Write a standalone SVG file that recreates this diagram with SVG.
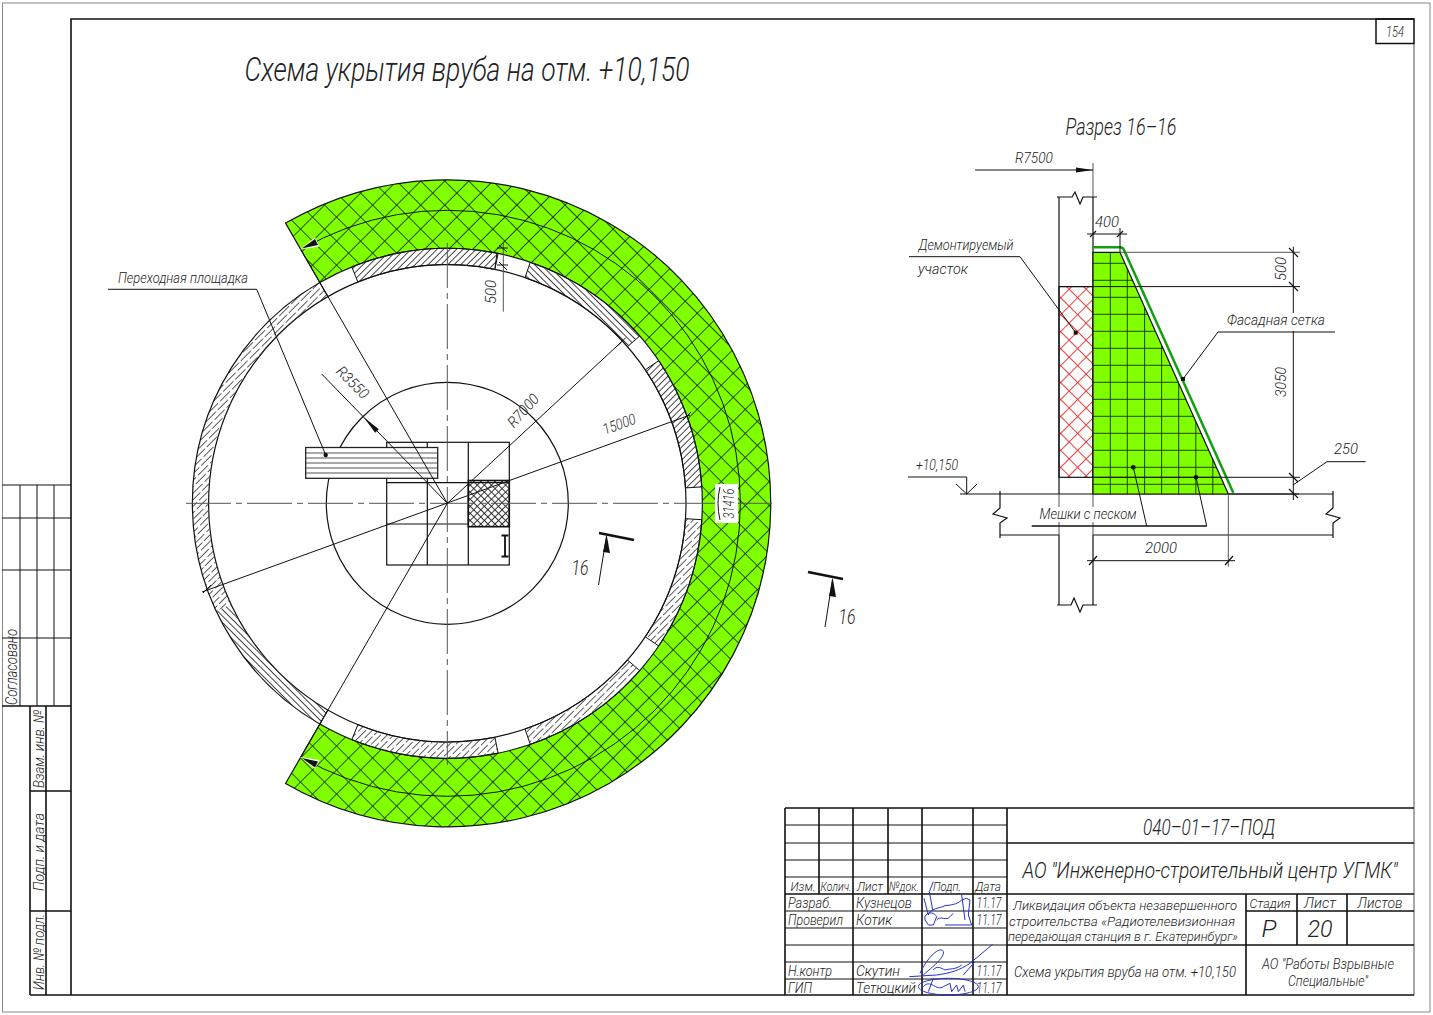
<svg xmlns="http://www.w3.org/2000/svg" width="1433" height="1015" viewBox="0 0 1433 1015">
<style>
text{font-family:"Roboto","Liberation Sans",sans-serif;font-style:italic;font-weight:300;fill:#222;text-anchor:middle}
.s{text-anchor:start}
.l{stroke:#111;stroke-width:1;fill:none}
.b{stroke:#111;stroke-width:1.6;fill:none}
.g{stroke:#555;stroke-width:1;fill:none}
.c{stroke:#555;stroke-width:1;fill:none;stroke-dasharray:45 5 6 5}
.t{stroke:#111;stroke-width:1.2;fill:none}
.sig{stroke:#2230d0;stroke-width:3;fill:none}
.d{fill:#111}
</style>
<defs>
<pattern id="h1" width="4.6" height="4.6" patternUnits="userSpaceOnUse" patternTransform="rotate(-45)"><path d="M0 2.3H4.6" stroke="#333" stroke-width=".9"/></pattern>
<pattern id="h2" width="4.6" height="4.6" patternUnits="userSpaceOnUse" patternTransform="rotate(45)"><path d="M0 2.3H4.6" stroke="#333" stroke-width=".9"/></pattern>
<pattern id="h3" width="17" height="9.2" patternUnits="userSpaceOnUse" patternTransform="rotate(-45)"><path d="M0 2.3H14.500M0 6.900H5M8 6.900H17" stroke="#444" stroke-width=".9"/></pattern>
<pattern id="net" width="17" height="17" patternUnits="userSpaceOnUse" patternTransform="rotate(45)"><path d="M0 .5H17M.5 0V17" stroke="#1c3a10" stroke-width=".9"/></pattern>
<pattern id="red" width="12" height="12" patternUnits="userSpaceOnUse" patternTransform="rotate(45)"><path d="M0 .5H12M.5 0V12" stroke="#e83030" stroke-width=".9"/></pattern>
<pattern id="dense" width="5" height="5" patternUnits="userSpaceOnUse" patternTransform="rotate(45)"><path d="M0 .5H5M.5 0V5" stroke="#222" stroke-width=".9"/></pattern>
<clipPath id="gc"><path d="M1093 252.3H1120L1228.3 494H1093Z"/></clipPath>
</defs>
<rect width="1433" height="1015" fill="#fff"/>

<g id="frame">
<rect x="2.5" y="3" width="1427.5" height="1009" fill="none" stroke="#888"/>
<path class="b" d="M71 995V19H1414"/>
<path class="g" d="M1414 44V995"/>
<path class="b" d="M30 995H1414"/>
<rect x="1376" y="19" width="38" height="24.500" fill="none" stroke="#111" stroke-width="1.500"/>
<text x="1395" y="37" font-size="15" textLength="18" lengthAdjust="spacingAndGlyphs">154</text>
</g>

<g id="side-stamp">
<path class="l" d="M2 485H71M2 518H71M2 570H71M2 638H71M20 485V706M37 485V706M54 485V706"/>
<path class="b" d="M2 706H71M30 706V995M46 706V995M30 791H71M30 911H71"/>
<text transform="translate(17 667) rotate(-90)" font-size="16" textLength="76" lengthAdjust="spacingAndGlyphs">Согласовано</text>
<text transform="translate(44 749) rotate(-90)" font-size="15" textLength="78" lengthAdjust="spacingAndGlyphs">Взам. инв. №</text>
<text transform="translate(44 852) rotate(-90)" font-size="15" textLength="78" lengthAdjust="spacingAndGlyphs">Подп. и дата</text>
<text transform="translate(44 952) rotate(-90)" font-size="15" textLength="76" lengthAdjust="spacingAndGlyphs">Инв. № подл.</text>
</g>

<g id="title">
<text x="467" y="81" font-size="33" textLength="445" lengthAdjust="spacingAndGlyphs">Схема укрытия вруба на отм. +10,150</text>
<text x="1121" y="135" font-size="23" textLength="111" lengthAdjust="spacingAndGlyphs">Разрез 16–16</text>
</g>

<g id="plan-cover">
<path d="M285.55 223.1A323.5 323.5 0 1 1 285.55 783.5L319.8 724.1A255 255 0 1 0 319.8 282.5Z" fill="#80ff00"/>
<path d="M285.55 223.1A323.5 323.5 0 1 1 285.55 783.5L319.8 724.1A255 255 0 1 0 319.8 282.5Z" fill="url(#net)" stroke="#111" stroke-width="1.200"/>
<path class="l" d="M300.8 249.6A293 293 0 1 1 300.8 757"/>
</g>

<g id="plan-wall">
<circle cx="447.3" cy="503.3" r="238.7" fill="#fff" stroke="#111" stroke-width="1.200"/>
<path d="M498.1 253.4A255 255 0 0 0 351.8 266.9L357.9 282A238.7 238.7 0 0 1 494.900 269.4Z" fill="url(#h1)" stroke="#111"/>
<path d="M639.7 336A255 255 0 0 0 530.3 262.2L525 277.6A238.7 238.7 0 0 1 627.4 346.7Z" fill="url(#h2)" stroke="#111"/>
<path d="M701.8 486.9A255 255 0 0 0 658.7 360.7L645.2 369.8A238.7 238.7 0 0 1 685.5 487.9Z" fill="url(#h1)" stroke="#111"/>
<path d="M701.8 519.7A255 255 0 0 1 658.7 645.9L645.2 636.8A238.7 238.7 0 0 0 685.5 518.7Z" fill="url(#h3)" stroke="#111"/>
<path d="M639.7 670.6A255 255 0 0 1 530.3 744.4L525 729A238.7 238.7 0 0 0 627.4 659.9Z" fill="url(#h3)" stroke="#111"/>
<path d="M498.1 753.2A255 255 0 0 1 351.8 739.7L357.9 724.6A238.7 238.7 0 0 0 494.900 737.2Z" fill="url(#h3)" stroke="#111"/>
<path d="M319.8 282.5A255 255 0 0 0 216.2 611.1L231 604.2A238.7 238.7 0 0 1 327.95 296.6Z" fill="url(#h3)"/>
<path d="M216.2 611.1A255 255 0 0 0 319.8 724.1L327.95 710A238.7 238.7 0 0 1 231 604.2Z" fill="url(#h2)"/>
<path class="t" d="M319.8 282.5A255 255 0 0 0 319.8 724.1L327.95 710M319.8 282.5L327.95 296.6"/>
</g>

<g id="plan-core">
<circle class="t" cx="447.3" cy="503.3" r="121"/>
<rect x="386.7" y="442.3" width="122.6" height="122.7" fill="#fff" stroke="#111" stroke-width="1.200"/>
<rect x="468.3" y="480.500" width="41" height="46.200" fill="url(#dense)" stroke="#111" stroke-width="1.600"/>
<path class="t" d="M427.3 442.3V565M468.3 442.3V565M386.7 482.7H509.3M386.7 524H468.3"/>
<path d="M501.500 535.500H508.500M505 535.500V556.500M501.500 556.500H508.500" stroke="#111" stroke-width="1.800" fill="none"/>
</g>

<g id="plan-platform">
<rect x="305.7" y="447.5" width="132" height="30.800" fill="#fff" stroke="#222" stroke-width="1.300"/>
<path class="g" d="M306 453H437M306 458H437M306 463H437M306 468H437M306 473H437"/>
</g>

<g id="connectors">
<path class="c" d="M186 503.3H772"/>
<path class="c" d="M447.3 243V765"/>
<path class="l" d="M447.3 503.3L300.8 249.6M447.3 503.3L300.8 757"/>
<path class="l" d="M202 592L690 415M447.3 503.3L621.7 341.7"/>
<path class="l" d="M617.700 345.700L625.700 337.700M683 420L691 412M203 593L211 585"/>
<path class="l" d="M321.7 374L447.3 503.3"/>
<polygon points="363.5,417 375.200,432.800 378.800,429.200" class="d"/>
<polygon points="300,249.500 315,237.500 319.500,246.500" fill="#fff"/>
<polygon points="301.700,248.500 315,239 318,245" class="d"/>
<polygon points="300,757 315,769 319.500,760" fill="#fff"/>
<polygon points="301.700,758 315,767.500 318,761.500" class="d"/>
<path class="g" d="M503.300 241.700V311.700"/>
<path class="l" d="M497 248H508M497 265H508M499 245L507 252M499 262L507 270M497 253L495 268"/>
<path class="l" d="M108 289.300H256.700L325.700 455"/>
<circle class="d" cx="325.700" cy="455" r="2.200"/>
<path d="M599 533L634 540" stroke="#111" stroke-width="2.400"/>
<path class="l" d="M598.500 585L606.500 536"/>
<polygon points="606.700,535 603,552 610,553" class="d"/>
<path d="M808 572L843 579" stroke="#111" stroke-width="2.400"/>
<path class="l" d="M825 627L832.500 579"/>
<polygon points="832.700,578 829,596 836,597" class="d"/>
</g>

<g id="plan-labels">
<text x="183" y="283" font-size="15" textLength="130" lengthAdjust="spacingAndGlyphs">Переходная площадка</text>
<text transform="translate(349 386) rotate(45)" font-size="15" textLength="39" lengthAdjust="spacingAndGlyphs">R3550</text>
<text transform="translate(527 414) rotate(-48)" font-size="15" textLength="39" lengthAdjust="spacingAndGlyphs">R7000</text>
<text transform="translate(621 429) rotate(-20)" font-size="15" textLength="34" lengthAdjust="spacingAndGlyphs">15000</text>
<text transform="translate(496 292) rotate(-90)" font-size="15" textLength="24" lengthAdjust="spacingAndGlyphs">500</text>
<rect x="715" y="484" width="23" height="39" fill="#fff"/>
<text transform="translate(734 503.500) rotate(-90)" font-size="15" textLength="30" lengthAdjust="spacingAndGlyphs">31416</text>
<path class="l" d="M720 487Q716 503 720 520"/>
<text x="580" y="575" font-size="20" textLength="17" lengthAdjust="spacingAndGlyphs">16</text>
<text x="847" y="624" font-size="20" textLength="17" lengthAdjust="spacingAndGlyphs">16</text>
</g>

<g id="section-slab">
<path class="t" d="M960 494H1333M1000 535H1059M1093 535H1333M1000 491V508L993 514L1007 518L1000 523V538M1333 491V508L1326 514L1340 518L1333 523V538"/>
<path class="t" d="M1057 197H1072L1075 192L1080 204L1083 197H1097M1057 605H1071L1074 598L1080 612L1083 605H1097"/>
<path class="t" d="M1059 197V494M1093 197V494M1059 535V605M1093 535V605"/>
<path class="g" d="M1059 494V507M1059 522V535M1093 494V507M1093 522V535M1093 163V197"/>
</g>

<g id="section-demolished">
<rect x="1059" y="286.600" width="34" height="190.700" fill="url(#red)" stroke="#111" stroke-width="1.200"/>
</g>

<g id="section-bags">
<path d="M1093 252.3H1120L1228.3 494H1093Z" fill="#80ff00"/>
<g clip-path="url(#gc)"><path stroke="#14300a" stroke-width=".9" fill="none" d="M1110.300 252V494M1127.300 252V494M1144.600 252V494M1161.600 252V494M1178.700 252V494M1195.800 252V494M1212.800 252V494M1093 263.300H1230M1093 280.300H1230M1093 297.300H1230M1093 314.300H1230M1093 331.300H1230M1093 348.300H1230M1093 365.300H1230M1093 382.300H1230M1093 399.300H1230M1093 416.300H1230M1093 433.300H1230M1093 450.300H1230M1093 467.300H1230M1093 477.300H1230M1093 484.300H1230"/></g>
<path d="M1093 252.3H1120L1228.3 494H1093Z" fill="none" stroke="#111" stroke-width="1.200"/>
</g>

<g id="section-mesh">
<path d="M1092 247.300H1120Q1123 247.300 1124 250L1233.300 492.700" fill="none" stroke="#12a012" stroke-width="2.500"/>
</g>

<g id="section-dims">
<path class="l" d="M975 170H1093"/>
<polygon points="1093,170 1076,167.500 1076,172.500" class="d"/>
<path class="l" d="M1087 234H1127M1120 228V252"/>
<path class="t" d="M1090 237L1096 231M1117 237L1123 231"/>
<path class="g" d="M1120 252.300H1300"/>
<path class="l" d="M1059 286.600H1300M1093 477.300H1300M1228 494H1299"/>
<path class="l" d="M1293.300 246.700V313M1293.300 331V500"/>
<path class="t" d="M1289 248L1298 257M1289 282L1298 291M1289 473L1298 482M1289 489L1298 498"/>
<path class="l" d="M1293 485L1327 461.700H1365.700"/>
<path class="g" d="M1228.300 494V566.700"/>
<path class="l" d="M1087 560.700H1235"/>
<path class="t" d="M1089 565L1097 556M1225 565L1233 556"/>
<path class="l" d="M1183 379L1218 332H1335"/>
<rect class="d" x="1181" y="377" width="4" height="4"/>
<path class="l" d="M909 256.700H1020L1075.700 332.700"/>
<rect class="d" x="1073.700" y="330.700" width="4" height="4"/>
<path class="l" d="M908 477H966.700V494M956 484L966.700 494L977 484"/>
<path class="l" d="M1146.700 526L1133.300 467.300M1206.700 526L1196 477.300"/>
<path class="b" d="M1031.700 526H1206.700"/>
<circle class="d" cx="1133.300" cy="467.300" r="2.400"/>
<circle class="d" cx="1196" cy="477.300" r="2.400"/>
</g>

<g id="section-labels">
<text x="1034" y="163" font-size="15" textLength="38" lengthAdjust="spacingAndGlyphs">R7500</text>
<text x="1107" y="227" font-size="15" textLength="24" lengthAdjust="spacingAndGlyphs">400</text>
<text x="966" y="250" font-size="15" textLength="95" lengthAdjust="spacingAndGlyphs">Демонтируемый</text>
<text x="943" y="274" font-size="15" textLength="50" lengthAdjust="spacingAndGlyphs">участок</text>
<text x="1276" y="325" font-size="15" textLength="98" lengthAdjust="spacingAndGlyphs">Фасадная сетка</text>
<text transform="translate(1286 269) rotate(-90)" font-size="15" textLength="24" lengthAdjust="spacingAndGlyphs">500</text>
<text transform="translate(1286 382) rotate(-90)" font-size="15" textLength="30" lengthAdjust="spacingAndGlyphs">3050</text>
<text x="1346" y="454" font-size="15" textLength="24" lengthAdjust="spacingAndGlyphs">250</text>
<text x="937" y="470" font-size="15" textLength="42" lengthAdjust="spacingAndGlyphs">+10,150</text>
<text x="1088" y="519" font-size="15" textLength="97" lengthAdjust="spacingAndGlyphs">Мешки с песком</text>
<text x="1161" y="553" font-size="15" textLength="32" lengthAdjust="spacingAndGlyphs">2000</text>
</g>

<g id="title-block">
<path class="b" d="M785 808H1414M785 808V995M1007 808V995M1007 843H1414M1007 894H1414M1007 945H1414M1246 894V995M1297 894V945M1347 894V945M1246 911H1414M853 808V995M922 808V995M973 808V995M819 808V894M888 808V894"/>
<path class="l" d="M785 825H1007M785 843H1007M785 860H1007M785 877H1007"/>
<path class="b" d="M785 894H1007"/>
<path class="l" d="M785 911H1007M785 928H1007M785 945H1007M785 962H1007M785 979H1007"/>
<text x="803" y="891" font-size="13" textLength="25" lengthAdjust="spacingAndGlyphs">Изм.</text>
<text x="836" y="891" font-size="13" textLength="31" lengthAdjust="spacingAndGlyphs">Колич.</text>
<text x="870" y="891" font-size="13" textLength="26" lengthAdjust="spacingAndGlyphs">Лист</text>
<text x="904" y="891" font-size="13" textLength="30" lengthAdjust="spacingAndGlyphs">№док.</text>
<text x="947" y="891" font-size="13" textLength="28" lengthAdjust="spacingAndGlyphs">Подп.</text>
<text x="988" y="891" font-size="13" textLength="26" lengthAdjust="spacingAndGlyphs">Дата</text>
<text class="s" x="788" y="908" font-size="14" textLength="44" lengthAdjust="spacingAndGlyphs">Разраб.</text>
<text class="s" x="856" y="908" font-size="14" textLength="56" lengthAdjust="spacingAndGlyphs">Кузнецов</text>
<text x="989" y="908" font-size="14" textLength="25" lengthAdjust="spacingAndGlyphs">11.17</text>
<text class="s" x="788" y="925" font-size="14" textLength="55" lengthAdjust="spacingAndGlyphs">Проверил</text>
<text class="s" x="856" y="925" font-size="14" textLength="36" lengthAdjust="spacingAndGlyphs">Котик</text>
<text x="989" y="925" font-size="14" textLength="25" lengthAdjust="spacingAndGlyphs">11.17</text>
<text class="s" x="788" y="976" font-size="14" textLength="44" lengthAdjust="spacingAndGlyphs">Н.контр</text>
<text class="s" x="856" y="976" font-size="14" textLength="44" lengthAdjust="spacingAndGlyphs">Скутин</text>
<text x="989" y="976" font-size="14" textLength="25" lengthAdjust="spacingAndGlyphs">11.17</text>
<text class="s" x="788" y="993" font-size="14" textLength="24" lengthAdjust="spacingAndGlyphs">ГИП</text>
<text class="s" x="856" y="993" font-size="14" textLength="60" lengthAdjust="spacingAndGlyphs">Тетюцкий</text>
<text x="989" y="993" font-size="14" textLength="25" lengthAdjust="spacingAndGlyphs">11.17</text>
<text x="1125" y="910" font-size="13.500" textLength="224" lengthAdjust="spacingAndGlyphs">Ликвидация объекта незавершенного</text>
<text x="1122" y="926" font-size="13.500" textLength="226" lengthAdjust="spacingAndGlyphs">строительства «Радиотелевизионная</text>
<text x="1123" y="941" font-size="13.500" textLength="230" lengthAdjust="spacingAndGlyphs">передающая станция в г. Екатеринбург»</text>
<text x="1125" y="977" font-size="14" textLength="222" lengthAdjust="spacingAndGlyphs">Схема укрытия вруба на отм. +10,150</text>
<text x="1270" y="908" font-size="13.500" textLength="41" lengthAdjust="spacingAndGlyphs">Стадия</text>
<text x="1320" y="908" font-size="14" textLength="32" lengthAdjust="spacingAndGlyphs">Лист</text>
<text x="1380" y="908" font-size="14" textLength="45" lengthAdjust="spacingAndGlyphs">Листов</text>
<text x="1269" y="937" font-size="24" textLength="15" lengthAdjust="spacingAndGlyphs">Р</text>
<text x="1320" y="937" font-size="24" textLength="25" lengthAdjust="spacingAndGlyphs">20</text>
<text x="1328" y="969" font-size="14" textLength="132" lengthAdjust="spacingAndGlyphs">АО "Работы Взрывные</text>
<text x="1328" y="986" font-size="14" textLength="80" lengthAdjust="spacingAndGlyphs">Специальные"</text>
<text x="1209" y="835" font-size="22" textLength="132" lengthAdjust="spacingAndGlyphs">040–01–17–ПОД</text>
<text x="1210" y="878" font-size="22" textLength="375" lengthAdjust="spacingAndGlyphs">АО "Инженерно-строительный центр УГМК"</text>
<g id="signatures" transform="translate(900 875) scale(.3333)">
<path class="sig" d="M100 20L88 50L98 105M72 70L85 120C90 100 120 100 135 92C150 90 170 90 185 75L200 70L210 75L205 120L215 150L135 150M185 60L195 135M75 125C85 105 105 115 110 125L100 150L85 150L75 135ZM110 135C120 120 140 140 150 125L160 115"/>
<path class="sig" d="M28 305L110 300C150 295 180 285 210 265L278 208M225 260L190 300M60 295C80 250 120 210 130 230C135 250 85 285 70 300M100 285C110 270 125 280 135 285C150 280 165 285 185 270M100 310L85 350"/>
<ellipse class="sig" cx="145" cy="335" rx="90" ry="25"/>
<path class="sig" d="M70 335C90 310 110 350 130 335L150 325L155 350L170 330L175 350L190 330L195 350"/>
</g>
</g>
</svg>
